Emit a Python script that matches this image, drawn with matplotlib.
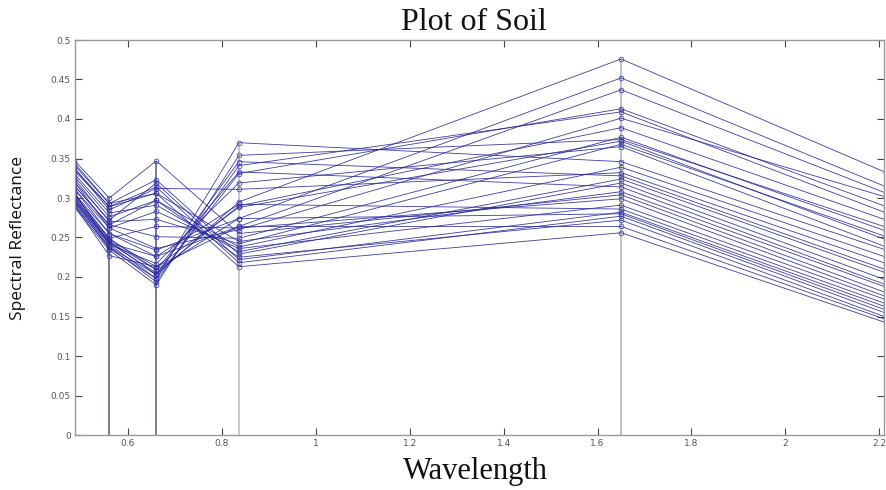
import matplotlib
matplotlib.use("Agg")
import matplotlib.pyplot as plt
import numpy as np

wavelengths = [0.485, 0.56, 0.66, 0.836, 1.65, 2.215]

band1 = [0.300, 0.305, 0.312, 0.295, 0.291, 0.321, 0.298, 0.316, 0.289, 0.302,
         0.325, 0.308, 0.293, 0.328, 0.338, 0.296, 0.331, 0.342, 0.300, 0.335,
         0.348, 0.304, 0.312, 0.297, 0.321, 0.306, 0.338, 0.316, 0.291, 0.345]
band2 = [0.245, 0.249, 0.255, 0.241, 0.238, 0.262, 0.243, 0.266, 0.234, 0.247,
         0.270, 0.241, 0.236, 0.276, 0.285, 0.238, 0.281, 0.293, 0.245, 0.289,
         0.300, 0.249, 0.262, 0.243, 0.272, 0.255, 0.289, 0.266, 0.227, 0.293]
band3 = [0.203, 0.209, 0.226, 0.198, 0.194, 0.236, 0.205, 0.251, 0.190, 0.213,
         0.273, 0.217, 0.198, 0.297, 0.312, 0.203, 0.291, 0.323, 0.209, 0.306,
         0.347, 0.264, 0.283, 0.226, 0.319, 0.234, 0.314, 0.297, 0.213, 0.306]
band4 = [0.295, 0.274, 0.264, 0.331, 0.341, 0.260, 0.290, 0.249, 0.354, 0.288,
         0.242, 0.319, 0.370, 0.238, 0.311, 0.346, 0.232, 0.229, 0.333, 0.245,
         0.255, 0.262, 0.236, 0.292, 0.222, 0.274, 0.218, 0.225, 0.264, 0.213]
band5 = [0.476, 0.452, 0.437, 0.413, 0.409, 0.401, 0.389, 0.377, 0.374, 0.372,
         0.368, 0.365, 0.346, 0.339, 0.332, 0.328, 0.324, 0.319, 0.314, 0.308,
         0.304, 0.299, 0.291, 0.286, 0.282, 0.280, 0.277, 0.272, 0.264, 0.256]
band7 = [0.332, 0.314, 0.306, 0.289, 0.281, 0.301, 0.272, 0.258, 0.263, 0.247,
         0.251, 0.238, 0.234, 0.225, 0.217, 0.209, 0.205, 0.196, 0.190, 0.187,
         0.180, 0.175, 0.171, 0.166, 0.162, 0.158, 0.154, 0.149, 0.146, 0.142]

xticks = [0.6, 0.8, 1, 1.2, 1.4, 1.6, 1.8, 2, 2.2]
xticklabels = ["0.6", "0.8", "1", "1.2", "1.4", "1.6", "1.8", "2", "2.2"]
yticks = [0, 0.05, 0.1, 0.15, 0.2, 0.25, 0.3, 0.35, 0.4, 0.45, 0.5]
yticklabels = ["0", "0.05", "0.1", "0.15", "0.2", "0.25", "0.3", "0.35", "0.4", "0.45", "0.5"]

bands = np.array([band1, band2, band3, band4, band5, band7])

fig = plt.figure(figsize=(8.86, 4.9), dpi=100)
ax = fig.add_axes([75 / 886, 55 / 490, 809 / 886, 395 / 490])

# vertical stems at band centres
stem_colors = [None, "#6e7194", "#6e7194", "#c3c4d4", "#b9bbcf", None]
for i, w in enumerate(wavelengths):
    if stem_colors[i] is None:
        continue
    ax.vlines(w, 0, bands[i].max(), color=stem_colors[i], lw=1.3, zorder=1)

for j in range(bands.shape[1]):
    ax.plot(wavelengths, bands[:, j], color="#28289e", lw=0.6, marker="o",
            ms=3.4, mfc="none", mec="#3535a8", mew=0.6, alpha=0.9, zorder=2)

ax.set_xlim(0.487, 2.21)
ax.set_ylim(0, 0.5)
ax.set_xticks(xticks)
ax.set_xticklabels(xticklabels)
ax.set_yticks(yticks)
ax.set_yticklabels(yticklabels)
for lab in ax.get_xticklabels() + ax.get_yticklabels():
    lab.set_fontfamily(["Liberation Sans Narrow", "DejaVu Sans"])
    lab.set_fontsize(6.5)
    lab.set_color("#555555")
ax.tick_params(direction="in", length=5, width=0.8, color="#444444",
               top=True, right=True, pad=3)
for s in ax.spines.values():
    s.set_color("#999999")
    s.set_linewidth(1.0)

fig.text(474 / 886, 1 - 23 / 490, "Plot of Soil", ha="center", va="center",
         family=["Liberation Serif", "DejaVu Serif"], fontsize=23, color="#111111")
fig.text(475 / 886, 1 - 471 / 490, "Wavelength", ha="center", va="center",
         family=["Liberation Serif", "DejaVu Serif"], fontsize=22, color="#111111")
fig.text(18 / 886, 1 - 238 / 490, "Spectral Reflectance", ha="center", va="center",
         rotation=90, family=["Open Sans", "DejaVu Sans"], fontsize=12.5, color="#111111")

fig.savefig("out.png", dpi=100)
